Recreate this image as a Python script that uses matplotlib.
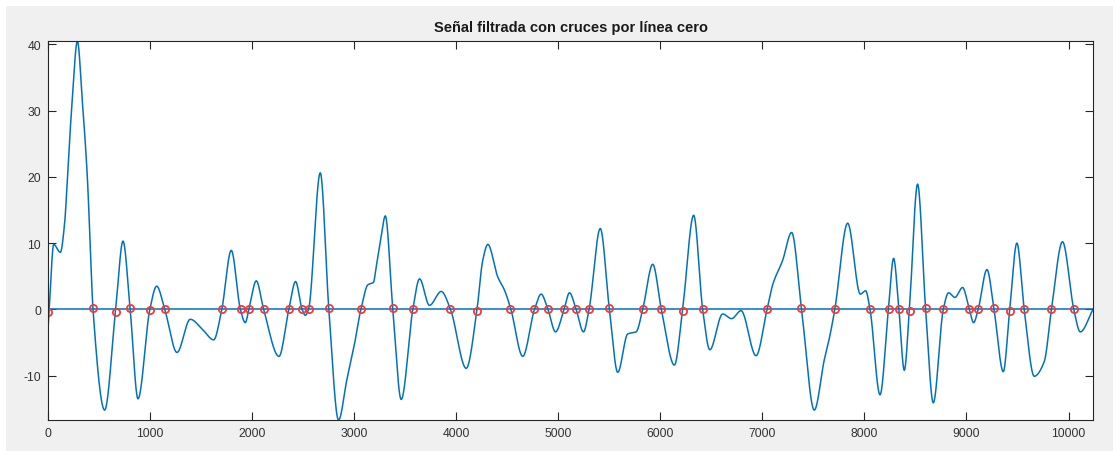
import matplotlib
matplotlib.use('Agg')
import matplotlib.pyplot as plt
from matplotlib.patches import Rectangle
import numpy as np

# Filtered signal: extrema, shoulders and zero crossings (sample index, amplitude)
sig_x = [0, 12, 56, 121, 164, 190, 236, 288, 337, 386, 408, 441,
         555, 663, 735, 805, 882,
         998, 1065, 1144, 1264, 1394, 1518, 1623, 1703, 1796, 1885, 1933,
         1969, 2041, 2113, 2263, 2360, 2426, 2490, 2521, 2553, 2668, 2752,
         2847, 2930, 3000, 3066, 3134, 3190, 3216, 3265, 3305, 3379, 3461,
         3575, 3641, 3738, 3853, 3944, 4098, 4204, 4260, 4310, 4407, 4473,
         4536, 4652, 4767, 4832, 4899, 4973, 5057, 5110, 5175, 5247, 5302,
         5412, 5501, 5583, 5681, 5763, 5828, 5926, 6010, 6138, 6219, 6327,
         6415, 6485, 6611, 6699, 6791, 6938, 7046, 7101, 7199, 7287, 7384,
         7509, 7607, 7656, 7710, 7836, 7960, 8012, 8055, 8153, 8235, 8286,
         8338, 8391, 8441, 8521, 8600, 8675, 8773, 8825, 8887, 8962, 9028,
         9070, 9115, 9201, 9270, 9361, 9424, 9494, 9566, 9664, 9762, 9833,
         9941, 10052, 10115, 10240]
sig_y = [-3.0, 0.0, 9.8, 8.6, 13.2, 19.8, 31.3, 40.5, 31.3, 19.8, 12.0, 0.0,
         -15.2, 0.0, 10.3, 0.0, -13.5,
         0.0, 3.5, 0.0, -6.5, -1.5, -3.1, -4.6, 0.0, 8.9, 0.0,
         -2.0, 0.0, 4.3, 0.0, -7.1, 0.0, 4.2, 0.0, -0.9, 0.0, 20.6, 0.0,
         -16.7, -10.5, -5.5, 0.0, 3.7, 4.1, 6.4, 11.0, 14.1, 0.0, -13.6,
         0.0, 4.6, 0.6, 2.7, 0.0, -8.9, 0.0, 7.4, 9.8, 4.9, 2.9,
         0.0, -7.1, 0.0, 2.3, 0.0, -3.4, 0.0, 2.5, 0.0, -3.4, 0.0,
         12.2, 0.0, -9.5, -3.7, -3.4, 0.0, 6.8, 0.0, -8.4, 0.0, 14.2,
         0.0, -6.1, -0.7, -1.4, -0.2, -7.0, 0.0, 3.7, 7.4, 11.6, 0.0,
         -15.2, -7.6, -4.4, 0.0, 13.0, 2.3, 2.8, 0.0, -12.9, 0.0, 7.7,
         0.0, -9.2, 0.0, 18.9, 0.0, -14.1, 0.0, 2.5, 1.8, 3.3, 0.0,
         -2.0, 0.0, 6.0, 0.0, -9.4, 0.0, 10.0, 0.0, -10.1, -7.9, 0.0,
         10.2, 0.0, -3.4, 0.0]

# Detected zero crossings
cruce_x = [0, 444, 663, 807, 1003, 1146, 1708, 1887, 1969, 2113, 2361, 2485,
           2553, 2752, 3066, 3379, 3575, 3944, 4202, 4532, 4767, 4901, 5061,
           5175, 5306, 5501, 5828, 6011, 6219, 6415, 7046, 7382, 7708, 8055,
           8237, 8342, 8443, 8603, 8773, 9028, 9113, 9266, 9429, 9566, 9831,
           10056]
cruce_y = [-0.35, 0.15, -0.35, 0.15, -0.1, 0.0, 0.0, 0.0, 0.0, 0.0, 0.0, 0.0,
           0.0, 0.15, 0.0, 0.25, 0.0, 0.0, -0.25, 0.0, 0.0, 0.0, 0.0,
           0.0, 0.0, 0.25, 0.0, 0.0, -0.25, 0.0, 0.0, 0.25, 0.0, 0.0,
           0.0, 0.0, -0.25, 0.25, 0.0, 0.0, 0.0, 0.25, -0.25, 0.0, 0.0,
           0.0]

x_ticks = list(range(0, 10001, 1000))
y_ticks = [-10, 0, 10, 20, 30, 40]


def pchip(x, y, xn):
    # shape preserving cubic so the trace stays smooth between read points
    x = np.asarray(x, float)
    y = np.asarray(y, float)
    h = np.diff(x)
    d = np.diff(y) / h
    m = np.zeros_like(y)
    for k in range(1, len(x) - 1):
        if d[k - 1] * d[k] > 0:
            w1 = 2 * h[k] + h[k - 1]
            w2 = h[k] + 2 * h[k - 1]
            m[k] = (w1 + w2) / (w1 / d[k - 1] + w2 / d[k])
    m[0] = d[0]
    m[-1] = d[-1]
    i = np.clip(np.searchsorted(x, xn) - 1, 0, len(x) - 2)
    t = (xn - x[i]) / h[i]
    h00 = 2 * t**3 - 3 * t**2 + 1
    h10 = t**3 - 2 * t**2 + t
    h01 = -2 * t**3 + 3 * t**2
    h11 = t**3 - t**2
    return h00 * y[i] + h10 * h[i] * m[i] + h01 * y[i + 1] + h11 * h[i] * m[i + 1]


plt.rcParams['font.family'] = ['Liberation Sans', 'DejaVu Sans']
plt.rcParams['axes.unicode_minus'] = False

fig = plt.figure(figsize=(11.19, 4.52), dpi=100)
fig.patch.set_facecolor('white')
fig.patches.append(Rectangle((6 / 1119, 0), 1107 / 1119, 445 / 452,
                             transform=fig.transFigure, facecolor='#f0f0f0',
                             edgecolor='none', zorder=-10))

ax = fig.add_axes([48 / 1119, 31 / 452, 1045 / 1119, 379 / 452])

t = np.linspace(sig_x[0], sig_x[-1], 4000)
blue = '#0072bd'
ax.plot(t, pchip(sig_x, sig_y, t), color=blue, lw=1.1)
ax.axhline(0, color=blue, lw=1.1)
ax.plot(cruce_x, cruce_y, 'o', ms=5.2, mfc='none', mec='#ee3b3b', mew=1.3)

ax.set_xlim(0, 10240)
ax.set_ylim(-16.7, 40.5)
ax.set_xticks(x_ticks)
ax.set_yticks(y_ticks)
ax.tick_params(direction='in', length=6, width=0.8, top=True, right=True,
               labelsize=8.7, labelcolor='#333333', color='#262626', pad=5)
for s in ax.spines.values():
    s.set_color('#262626')
    s.set_linewidth(0.8)

ax.set_title('Señal filtrada con cruces por línea cero', fontsize=10.5,
             fontweight='bold', color='#1a1a1a', pad=7)

fig.savefig('out.png', dpi=100, facecolor=fig.get_facecolor())
